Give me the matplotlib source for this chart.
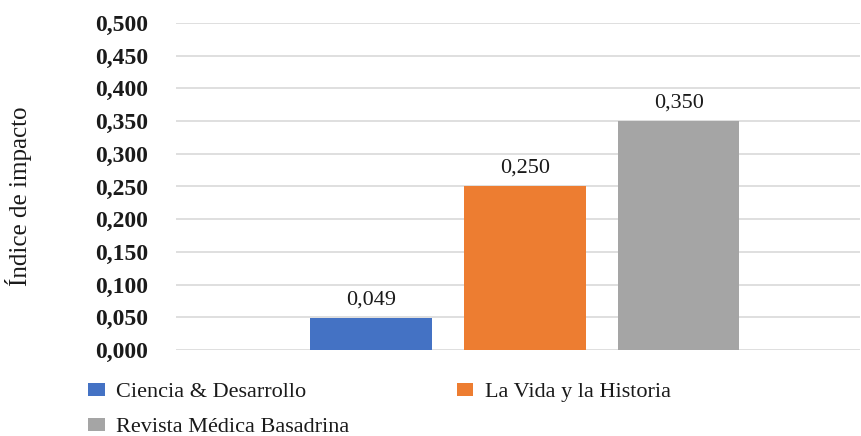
import matplotlib.pyplot as plt
import numpy as np
from matplotlib.patches import Patch
from matplotlib.ticker import FuncFormatter

plt.rcParams['font.family'] = ['Liberation Serif', 'DejaVu Serif']

# data
journals = ["Ciencia & Desarrollo", "La Vida y la Historia", "Revista Médica Basadrina"]
impact = [0.049, 0.250, 0.350]
colors = ["#4472C4", "#ED7D31", "#A5A5A5"]
yticks = np.arange(0, 0.501, 0.05)

fig = plt.figure(figsize=(8.61, 4.36), dpi=100)
ax = fig.add_axes([176 / 861, 86 / 436, 684 / 861, 327 / 436])

x = np.arange(len(journals)) - 1
bars = ax.bar(x, impact, width=0.79, color=colors, zorder=3)

for b, v in zip(bars, impact):
    ax.text(b.get_x() + b.get_width() / 2, v + 0.013, f"{v:.3f}".replace(".", ","),
            ha='center', va='bottom', fontsize=16, color='#1a1a1a')

ax.set_ylim(0, 0.5)
ax.set_xlim(-2.27, 2.18)
ax.set_yticks(yticks)
ax.yaxis.set_major_formatter(FuncFormatter(lambda v, p: f"{v:.3f}".replace(".", ",")))
for lbl in ax.get_yticklabels():
    lbl.set_fontweight('bold')
    lbl.set_fontsize(17)
    lbl.set_color('#1a1a1a')
ax.tick_params(axis='y', length=0, pad=20)
ax.set_xticks([])
ax.grid(axis='y', color='#d9d9d9', linewidth=1.2, zorder=0)
for s in ax.spines.values():
    s.set_visible(False)

ax.set_ylabel("Índice de impacto", fontsize=18, color='#1a1a1a')
ax.yaxis.set_label_coords(-0.21, 0.47)

# legend: row 1 = first two, row 2 = third
order = [0, 2, 1]
handles = [Patch(facecolor=colors[i], edgecolor='none', label=journals[i]) for i in order]
fig.legend(handles=handles, loc='upper left', bbox_to_anchor=(88 / 861, 1 - 383 / 436),
           ncol=2, frameon=False, fontsize=16, handlelength=0.75, handleheight=0.5,
           handletextpad=0.5, columnspacing=4.85, labelspacing=0.72, labelcolor='#1a1a1a',
           borderaxespad=0, borderpad=0)

fig.savefig("out.png", dpi=100)
